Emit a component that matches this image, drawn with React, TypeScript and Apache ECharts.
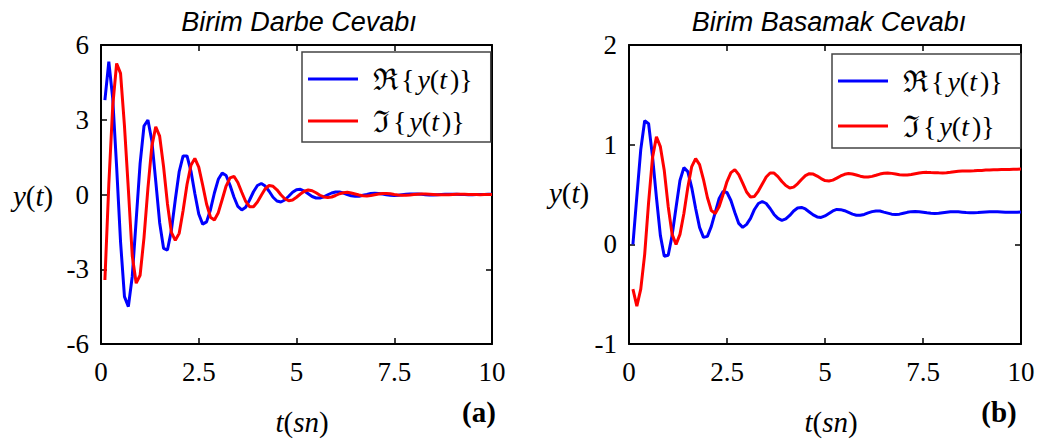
import React, { useEffect, useRef } from "react";
import * as echarts from "echarts";

// Sample times (s)
const T = [
  0.1, 0.2, 0.3, 0.4, 0.5, 0.6, 0.7, 0.8, 0.9, 1.0,
  1.1, 1.2, 1.3, 1.4, 1.5, 1.6, 1.7, 1.8, 1.9, 2.0,
  2.1, 2.2, 2.3, 2.4, 2.5, 2.6, 2.7, 2.8, 2.9, 3.0,
  3.1, 3.2, 3.3, 3.4, 3.5, 3.6, 3.7, 3.8, 3.9, 4.0,
  4.1, 4.2, 4.3, 4.4, 4.5, 4.6, 4.7, 4.8, 4.9, 5.0,
  5.1, 5.2, 5.3, 5.4, 5.5, 5.6, 5.7, 5.8, 5.9, 6.0,
  6.1, 6.2, 6.3, 6.4, 6.5, 6.6, 6.7, 6.8, 6.9, 7.0,
  7.1, 7.2, 7.3, 7.4, 7.5, 7.6, 7.7, 7.8, 7.9, 8.0,
  8.1, 8.2, 8.3, 8.4, 8.5, 8.6, 8.7, 8.8, 8.9, 9.0,
  9.1, 9.2, 9.3, 9.4, 9.5, 9.6, 9.7, 9.8, 9.9, 10.0,
];

// Unit impulse response, real part
const impulseRe = [
  3.79, 5.33, 3.85, 1.1, -1.9, -4.1, -4.5, -3.28, -1.02, 1.24,
  2.75, 2.99, 2.16, 0.54, -1.13, -2.16, -2.23, -1.44, -0.21, 0.92,
  1.55, 1.55, 0.94, 0.04, -0.78, -1.19, -1.1, -0.61, 0.06, 0.61,
  0.86, 0.76, 0.37, -0.1, -0.48, -0.62, -0.51, -0.22, 0.11, 0.36,
  0.44, 0.34, 0.13, -0.11, -0.26, -0.3, -0.22, -0.07, 0.09, 0.19,
  0.21, 0.14, 0.03, -0.08, -0.14, -0.14, -0.09, -0.01, 0.06, 0.1,
  0.1, 0.06, 0.0, -0.05, -0.07, -0.07, -0.03, 0.0, 0.04, 0.05,
  0.04, 0.02, -0.01, -0.03, -0.04, -0.03, -0.01, 0.01, 0.02, 0.02,
  0.02, 0.01, -0.01, -0.02, -0.02, -0.01, 0.0, 0.01, 0.01, 0.01,
  0.01, 0.0, 0.0, -0.01, -0.01, 0.0, 0.0, 0.0, 0.01, 0.01,
];

// Unit impulse response, imaginary part
const impulseIm = [
  -3.43, 0.4, 3.55, 5.26, 4.86, 2.75, 0.2, -2.47, -3.56, -3.24,
  -1.73, 0.25, 1.93, 2.72, 2.34, 1.12, -0.38, -1.52, -1.84, -1.56,
  -0.64, 0.4, 1.17, 1.45, 1.1, 0.38, -0.38, -0.91, -1.02, -0.73,
  -0.2, 0.34, 0.67, 0.73, 0.48, 0.09, -0.28, -0.49, -0.49, -0.3,
  -0.03, 0.23, 0.36, 0.33, 0.19, -0.01, -0.17, -0.25, -0.22, -0.11,
  0.02, 0.13, 0.18, 0.15, 0.07, -0.03, -0.1, -0.12, -0.1, -0.04,
  0.03, 0.07, 0.09, 0.06, 0.02, -0.02, -0.05, -0.06, -0.04, -0.01,
  0.02, 0.04, 0.04, 0.03, 0.0, -0.02, -0.03, -0.03, -0.02, 0.0,
  0.01, 0.02, 0.02, 0.01, 0.0, -0.01, -0.01, -0.01, -0.01, 0.0,
  0.01, 0.01, 0.01, 0.0, 0.0, 0.0, -0.01, 0.0, 0.0, 0.0,
];

// Unit step response, real part
const stepRe = [
  0.0, 0.48, 0.95, 1.24, 1.21, 0.88, 0.47, 0.09, -0.12, -0.11,
  0.09, 0.37, 0.64, 0.77, 0.73, 0.57, 0.36, 0.17, 0.07, 0.08,
  0.18, 0.32, 0.46, 0.53, 0.52, 0.44, 0.32, 0.21, 0.17, 0.2,
  0.26, 0.35, 0.41, 0.43, 0.41, 0.36, 0.3, 0.26, 0.24, 0.255,
  0.29, 0.335, 0.365, 0.37, 0.355, 0.325, 0.295, 0.275, 0.27, 0.285,
  0.31, 0.335, 0.35, 0.348, 0.337, 0.32, 0.303, 0.292, 0.291, 0.3,
  0.315, 0.328, 0.335, 0.334, 0.323, 0.313, 0.303, 0.3, 0.303, 0.312,
  0.321, 0.328, 0.33, 0.328, 0.322, 0.316, 0.311, 0.31, 0.312, 0.317,
  0.322, 0.326, 0.327, 0.326, 0.323, 0.32, 0.318, 0.318, 0.319, 0.322,
  0.325, 0.327, 0.327, 0.326, 0.324, 0.322, 0.321, 0.321, 0.322, 0.324,
];

// Unit step response, imaginary part
const stepIm = [
  -0.45, -0.62, -0.45, -0.1, 0.42, 0.87, 1.08, 0.98, 0.74, 0.38,
  0.1, 0.0, 0.1, 0.31, 0.57, 0.78, 0.86, 0.8, 0.65, 0.47,
  0.34, 0.31, 0.38, 0.5, 0.63, 0.72, 0.75, 0.7, 0.615, 0.525,
  0.475, 0.48, 0.535, 0.605, 0.675, 0.715, 0.715, 0.68, 0.63, 0.59,
  0.566, 0.574, 0.607, 0.651, 0.69, 0.709, 0.705, 0.685, 0.66, 0.64,
  0.635, 0.644, 0.664, 0.686, 0.703, 0.71, 0.706, 0.696, 0.684, 0.676,
  0.676, 0.682, 0.693, 0.705, 0.713, 0.715, 0.712, 0.706, 0.699, 0.696,
  0.696, 0.701, 0.709, 0.716, 0.721, 0.722, 0.72, 0.719, 0.717, 0.716,
  0.718, 0.723, 0.729, 0.733, 0.735, 0.736, 0.737, 0.738, 0.74, 0.742,
  0.745, 0.747, 0.748, 0.749, 0.75, 0.751, 0.752, 0.753, 0.754, 0.755,
];

const X_MIN = 0;
const X_MAX = 10;
const X_STEP = 2.5;

const LEFT_Y = { min: -6, max: 6, step: 3 };
const RIGHT_Y = { min: -1, max: 2, step: 1 };

const TITLES = ["Birim Darbe Cevab\u0131", "Birim Basamak Cevab\u0131"];
const PANEL_TAGS = ["(a)", "(b)"];

const SERIF = "Liberation Serif";
const SANS = "Liberation Sans";
const SYMBOL_FONT = "DejaVu Serif";
const BLUE = "#0000ff";
const RED = "#ff0000";

const pairs = (ys: number[]) => T.map((t, i) => [t, ys[i]]);

const frameLine = { show: true, onZero: false, lineStyle: { color: "#000", width: 2 } };
const innerTick = { show: true, inside: true, length: 6, lineStyle: { color: "#000", width: 1.5 } };
const tickFont = { color: "#000", fontFamily: SERIF, fontSize: 27 };

function xAxes(gridIndex: number) {
  const base = {
    type: "value",
    gridIndex,
    min: X_MIN,
    max: X_MAX,
    interval: X_STEP,
    axisLine: frameLine,
    axisTick: innerTick,
    splitLine: { show: false },
  };
  return [
    { ...base, position: "bottom", axisLabel: { ...tickFont, margin: 14 } },
    { ...base, position: "top", axisLabel: { show: false } },
  ];
}

function yAxes(gridIndex: number, r: { min: number; max: number; step: number }) {
  const base = {
    type: "value",
    gridIndex,
    min: r.min,
    max: r.max,
    interval: r.step,
    axisLine: frameLine,
    axisTick: innerTick,
    splitLine: { show: false },
  };
  return [
    { ...base, position: "left", axisLabel: { ...tickFont, margin: 12 } },
    { ...base, position: "right", axisLabel: { show: false } },
  ];
}

const legendRich = {
  f: { fontFamily: SYMBOL_FONT, fontSize: 30, color: "#000", padding: [0, 3, 0, 0] },
  bl: { fontFamily: SERIF, fontSize: 28, color: "#000", padding: [0, 3, 0, 0] },
  br: { fontFamily: SERIF, fontSize: 28, color: "#000", padding: [0, 0, 0, 3] },
  n: { fontFamily: SERIF, fontSize: 28, color: "#000" },
  i: { fontFamily: SERIF, fontSize: 28, fontStyle: "italic", color: "#000" },
};

function legendBox(left: number, top: number, gap: number, padBottom: number) {
  return {
    orient: "vertical",
    left,
    top,
    data: ["Re", "Im"],
    itemWidth: 50,
    itemHeight: 3,
    itemGap: gap,
    icon: "rect",
    padding: [12, 18, padBottom, 6],
    borderColor: "#444",
    borderWidth: 1.5,
    backgroundColor: "#fff",
    textStyle: { fontFamily: SERIF, fontSize: 28, color: "#000", padding: [0, 0, 0, 10], rich: legendRich },
    formatter: (name: string) =>
      (name === "Re" ? "{f|\u211C}" : "{f|\u2111}") + "{bl|{}{i|y}{n|(}{i|t}{br|)}}",
    selectedMode: false,
  };
}

const labelRich = {
  i: { fontFamily: SERIF, fontSize: 29, fontStyle: "italic", fill: "#000" },
  n: { fontFamily: SERIF, fontSize: 29, fill: "#000" },
};

function mathText(x: number, y: number, text: string) {
  return {
    type: "text",
    x,
    y,
    style: { text, rich: labelRich, fontFamily: SERIF, fontSize: 29, align: "center", verticalAlign: "middle", fill: "#000" },
  };
}

function tagText(x: number, y: number, text: string) {
  return {
    type: "text",
    x,
    y,
    style: {
      text,
      fontFamily: SERIF,
      fontSize: 29,
      fontWeight: "bold",
      fill: "#000",
      align: "center",
      verticalAlign: "middle",
    },
  };
}

function lineSeries(name: string, color: string, axis: number, ys: number[]) {
  return {
    type: "line",
    name,
    xAxisIndex: axis,
    yAxisIndex: axis,
    data: pairs(ys),
    showSymbol: false,
    symbol: "none",
    lineStyle: { color, width: 3 },
    itemStyle: { color },
    z: name === "Im" ? 3 : 2,
  };
}

const titleStyle = { fontFamily: SANS, fontStyle: "italic", fontWeight: "normal", fontSize: 27, color: "#000" };

export default function App() {
  const ref = useRef<HTMLDivElement>(null);

  useEffect(() => {
    document.body.style.margin = "0";
    const chart = echarts.init(ref.current!, null, { renderer: "svg" });
    chart.setOption({
      animation: false,
      backgroundColor: "#fff",
      title: [
        { text: TITLES[0], left: 294, top: 3, textAlign: "center", textStyle: titleStyle },
        { text: TITLES[1], left: 824, top: 3, textAlign: "center", textStyle: titleStyle },
      ],
      grid: [
        { left: 101, top: 45, width: 391, height: 299 },
        { left: 629, top: 45, width: 392, height: 299 },
      ],
      xAxis: [...xAxes(0), ...xAxes(1)],
      yAxis: [...yAxes(0, LEFT_Y), ...yAxes(1, RIGHT_Y)],
      legend: [legendBox(302, 52, 12, 6), legendBox(832, 54, 15, 7)],
      series: [
        lineSeries("Re", BLUE, 0, impulseRe),
        lineSeries("Im", RED, 0, impulseIm),
        lineSeries("Re", BLUE, 2, stepRe),
        lineSeries("Im", RED, 2, stepIm),
      ],
      graphic: [
        mathText(33, 196, "{i|y}{n|(}{i|t}{n|)}"),
        mathText(569, 193, "{i|y}{n|(}{i|t}{n|)}"),
        mathText(302, 422, "{i|t}{n|(}{i|sn}{n|)}"),
        mathText(831, 422, "{i|t}{n|(}{i|sn}{n|)}"),
        tagText(479, 412, PANEL_TAGS[0]),
        tagText(999, 412, PANEL_TAGS[1]),
      ],
    });
    return () => chart.dispose();
  }, []);

  return <div ref={ref} style={{ width: 1040, height: 439 }} />;
}
